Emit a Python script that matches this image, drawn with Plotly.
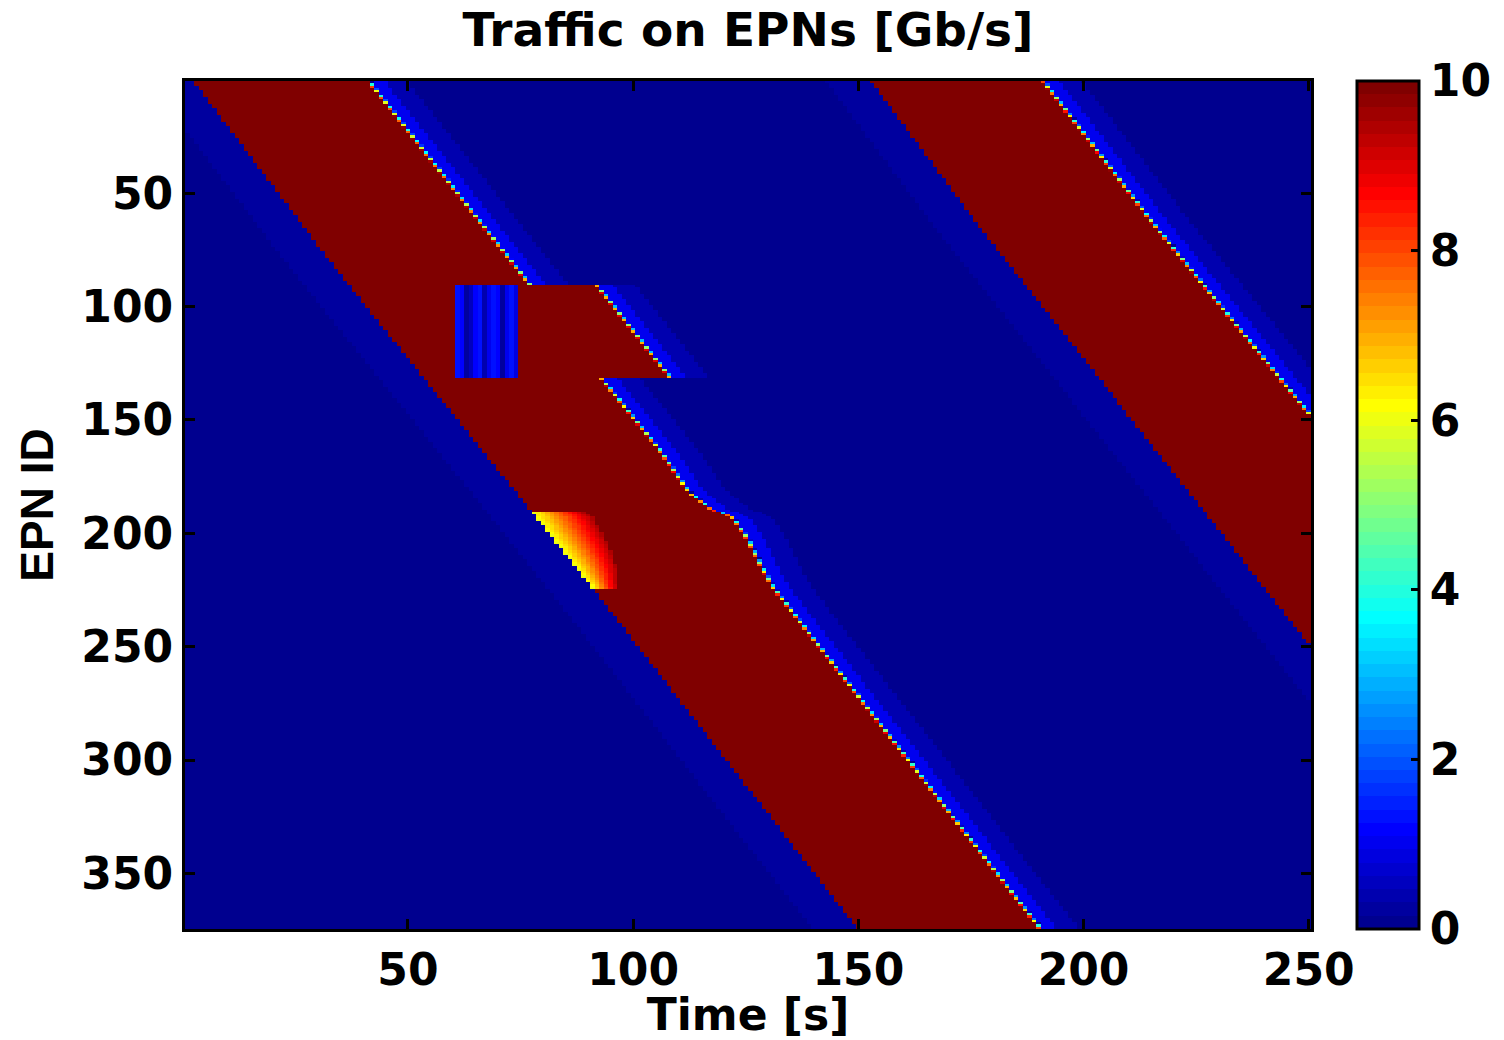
import numpy as np
import plotly.graph_objects as go

# Grid extents
N_EPN = 374
T_END = 250

# First traffic wave: leading (left) edge and trailing (right) edge, EPN ID -> time [s]
LEAD1_EPN = [1, 82, 190.5, 224, 374]
LEAD1_T = [2.5, 33.4, 77.5, 91.0, 149.6]
TRAIL1_EPN = [1, 90, 132, 163, 182, 189.5, 192.5, 201.5, 213, 223.6, 250, 374]
TRAIL1_T = [41.5, 77.0, 93.2, 105.9, 112.5, 117.6, 122.0, 125.2, 128.0, 131.0, 141.4, 190.3]

# Second traffic wave
LEAD2_EPN = [1, 65, 250]
LEAD2_T = [153.0, 177.0, 250.5]
TRAIL2_EPN = [1, 65, 148]
TRAIL2_T = [191.3, 216.2, 250.5]

# Delayed block of EPNs 91-131: later trailing edge
NOTCH_EPN = [90.5, 131]
NOTCH_T = [92.0, 108.2]

# Idle window for the same block (seconds 61-74), traffic per second
GAP_EPN = [90.5, 131]
GAP_T = [61, 62, 63, 64, 65, 66, 67, 68, 69, 70, 71, 72, 73, 74]
GAP_LEVEL = [1.4, 1.2, 0.3, 0.6, 1.2, 1.3, 0.4, 1.0, 1.3, 1.2, 0.3, 1.0, 1.3, 0.8]

# Ramp-up region of EPNs 191-224: right boundary and traffic range
WEDGE_EPN = [190.5, 192.7, 206, 214.8, 224]
WEDGE_T = [88.8, 91.0, 94.8, 96.3, 96.5]
WEDGE_LEVEL = [6.0, 9.5]

# Residual traffic before a wave arrives and after it leaves
AHEAD_SPAN, AHEAD_LEVEL = 10, 0.2
BEHIND_SPAN = [3, 8]
BEHIND_LEVEL = [1.0, 0.35]

PEAK = 10.0


def edge(e, ke, kt):
    """Piecewise-linear edge with linear extension past the end points."""
    ke = np.asarray(ke, float)
    kt = np.asarray(kt, float)
    out = np.interp(e, ke, kt)
    lo = e < ke[0]
    hi = e > ke[-1]
    s0 = (kt[1] - kt[0]) / (ke[1] - ke[0])
    s1 = (kt[-1] - kt[-2]) / (ke[-1] - ke[-2])
    out = np.where(lo, kt[0] + (e - ke[0]) * s0, out)
    out = np.where(hi, kt[-1] + (e - ke[-1]) * s1, out)
    return out


t = np.arange(1, T_END + 1)
e = np.arange(1, N_EPN + 1)
TT, EE = np.meshgrid(t.astype(float), e.astype(float))

lead1 = edge(EE, LEAD1_EPN, LEAD1_T)
trail1 = edge(EE, TRAIL1_EPN, TRAIL1_T)
in_notch = (EE >= NOTCH_EPN[0]) & (EE <= NOTCH_EPN[1])
trail1 = np.where(in_notch, np.interp(EE, NOTCH_EPN, NOTCH_T), trail1)
lead2 = edge(EE, LEAD2_EPN, LEAD2_T)
trail2 = edge(EE, TRAIL2_EPN, TRAIL2_T)

z = np.zeros_like(TT)
for lead, trail in ((lead1, trail1), (lead2, trail2)):
    frac = np.clip(trail - (TT - 0.5), 0, 1)
    band = np.where(TT >= lead, PEAK * frac, 0.0)
    ahead = (TT < lead) & (TT >= lead - AHEAD_SPAN)
    band = np.where(ahead, AHEAD_LEVEL, band)
    after = TT - 0.5 - trail
    band = np.where((after > 0) & (after <= BEHIND_SPAN[1]) & (TT >= lead), BEHIND_LEVEL[1], band)
    band = np.where((after > 0) & (after <= BEHIND_SPAN[0]) & (TT >= lead), BEHIND_LEVEL[0], band)
    z = np.maximum(z, band)

# idle window
gap_rows = (EE >= GAP_EPN[0]) & (EE <= GAP_EPN[1])
for sec, lvl in zip(GAP_T, GAP_LEVEL):
    z = np.where(gap_rows & (TT == sec), lvl, z)

# ramp-up region
w_rows = (EE >= WEDGE_EPN[0]) & (EE <= WEDGE_EPN[-1])
w_edge = np.interp(EE, WEDGE_EPN, WEDGE_T)
w_cells = w_rows & (TT >= lead1) & (TT < w_edge)
ramp = WEDGE_LEVEL[0] + (WEDGE_LEVEL[1] - WEDGE_LEVEL[0]) * (TT - lead1) / np.maximum(w_edge - lead1, 1e-6)
z = np.where(w_cells, ramp, z)

# 64-step jet colour map
def jet(x):
    r = np.clip(1.5 - abs(4 * x - 3), 0, 1)
    g = np.clip(1.5 - abs(4 * x - 2), 0, 1)
    b = np.clip(1.5 - abs(4 * x - 1), 0, 1)
    return "rgb(%d,%d,%d)" % (round(r * 255), round(g * 255), round(b * 255))

NSTEP = 64
colorscale = []
for k in range(NSTEP):
    c = jet((k + 1) / NSTEP)
    colorscale.append([k / NSTEP, c])
    colorscale.append([(k + 1) / NSTEP, c])

TICK_FONT = dict(family="DejaVu Sans", size=44, color="black", weight="bold")
PLOT_W = 1311 - 185

fig = go.Figure(
    go.Heatmap(
        x=t, y=e, z=z,
        zmin=0, zmax=10,
        colorscale=colorscale,
        zsmooth=False,
        hoverinfo="skip",
        colorbar=dict(
            x=(1357 - 185) / PLOT_W, xanchor="left",
            y=0.5, yanchor="middle",
            len=1, lenmode="fraction",
            thickness=62, thicknessmode="pixels",
            xpad=0, ypad=0,
            outlinewidth=3, outlinecolor="black",
            ticks="inside", ticklen=9, tickwidth=3, tickcolor="black",
            tickvals=[0, 2, 4, 6, 8, 10],
            tickfont=TICK_FONT,
        ),
    )
)

# ticks on the left side of the colour bar
cb_left = (1358 - 185) / PLOT_W
for v in [2, 4, 6, 8]:
    fig.add_shape(type="line", xref="paper", yref="paper",
                  x0=cb_left, x1=cb_left + 9 / PLOT_W, y0=v / 10, y1=v / 10,
                  line=dict(color="black", width=3))

fig.update_layout(
    width=1504, height=1040,
    margin=dict(l=185, r=1504 - 1311, t=81, b=111, autoexpand=False),
    paper_bgcolor="white", plot_bgcolor="white",
    title=dict(
        text="Traffic on EPNs [Gb/s]",
        x=0.5, xref="paper", xanchor="center",
        y=1 - 30 / 1040, yref="container", yanchor="middle",
        font=dict(family="DejaVu Sans", size=47, color="black", weight="bold"),
    ),
    xaxis=dict(
        range=[0.5, T_END + 0.5],
        tickvals=[50, 100, 150, 200, 250],
        ticks="inside", ticklen=10, tickwidth=3, tickcolor="black",
        showline=True, linewidth=3, linecolor="black", mirror="ticks",
        showgrid=False, zeroline=False,
        tickfont=TICK_FONT,
        title=dict(text="Time [s]", standoff=0,
                   font=dict(family="DejaVu Sans", size=44, color="black", weight="bold")),
    ),
    yaxis=dict(
        range=[N_EPN + 0.5, 0.5],
        tickvals=[50, 100, 150, 200, 250, 300, 350],
        ticks="inside", ticklen=10, tickwidth=3, tickcolor="black",
        showline=True, linewidth=3, linecolor="black", mirror="ticks",
        showgrid=False, zeroline=False,
        tickfont=TICK_FONT,
        title=dict(text="EPN ID", standoff=14,
                   font=dict(family="Liberation Sans", size=46, color="black", weight="bold")),
    ),
)

fig.write_html("out.html")
